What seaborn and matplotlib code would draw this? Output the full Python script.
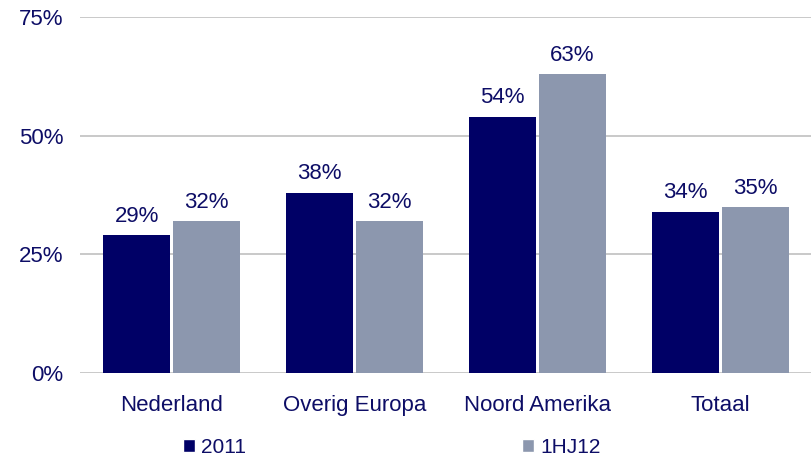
import pandas as pd
import matplotlib
matplotlib.use('Agg')
import matplotlib.pyplot as plt
import seaborn as sns
from matplotlib.patches import Patch

# Data
regions = ['Nederland', 'Overig Europa', 'Noord Amerika', 'Totaal']
vals_2011 = [29, 38, 54, 34]
vals_1hj12 = [32, 32, 63, 35]
series = ['2011', '1HJ12']

df = pd.DataFrame({
    'Regio': regions * 2,
    'Waarde': vals_2011 + vals_1hj12,
    'Periode': [series[0]] * 4 + [series[1]] * 4,
})

navy = '#000066'
grey = '#8C97AE'
txt = '#0D0D66'

sns.set_style('white')
plt.rcParams['font.family'] = ['Liberation Sans', 'DejaVu Sans']

fig = plt.figure(figsize=(8.12, 4.58), dpi=100)
ax = fig.add_axes([0.0985, 0.1856, 0.9015, 0.7774])

sns.barplot(data=df, x='Regio', y='Waarde', hue='Periode', order=regions,
            hue_order=series, palette=[navy, grey], width=0.76, gap=0.036,
            saturation=1, legend=False, linewidth=0, ax=ax)

# value labels
for container in ax.containers:
    ax.bar_label(container, labels=[f'{v:.0f}%' for v in container.datavalues],
                 padding=6, fontsize=16, color=txt)

ax.set_ylim(0, 75)
ax.set_xlim(-0.5, 3.5)
ax.set_yticks([0, 25, 50, 75])
ax.set_yticklabels(['0%', '25%', '50%', '75%'])
ax.yaxis.grid(True, color='#C0C0C0', linewidth=1.2)
ax.set_axisbelow(True)
for s in ax.spines.values():
    s.set_visible(False)
ax.tick_params(axis='both', length=0, labelsize=16, labelcolor=txt)
ax.tick_params(axis='y', pad=12)
ax.tick_params(axis='x', pad=16)
ax.set_xlabel('')
ax.set_ylabel('')

handles = [Patch(facecolor=navy, label=series[0]), Patch(facecolor=grey, label=series[1])]
fig.legend(handles=handles, loc='center left', bbox_to_anchor=(0.2254, 0.024),
           ncol=2, frameon=False, fontsize=15, handlelength=0.58, handleheight=0.58,
           handletextpad=0.29, columnspacing=13.25, labelcolor=txt,
           borderpad=0, borderaxespad=0)

fig.savefig('out.png', dpi=100)
